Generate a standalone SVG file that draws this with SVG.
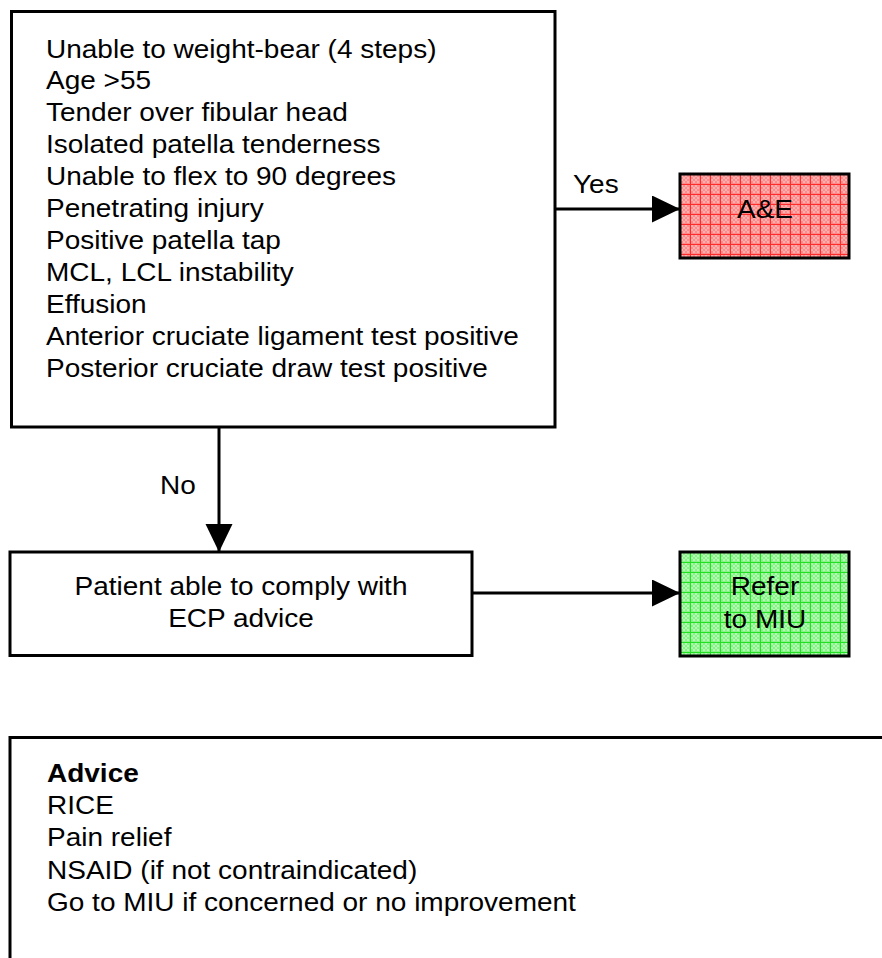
<svg xmlns="http://www.w3.org/2000/svg" width="882" height="958" viewBox="0 0 882 958">
<style>
  .box { fill: #ffffff; stroke: #000000; stroke-width: 3; }
  .t { font-family: "Liberation Sans", Arial, sans-serif; font-size: 25px; fill: #000000; }
  .b { font-weight: bold; }
  .c { text-anchor: middle; }
  .conn { stroke: #000000; stroke-width: 3; fill: none; }
</style>
<defs>
  <marker id="arrow" markerUnits="userSpaceOnUse" markerWidth="29" markerHeight="28" refX="28" refY="13.5" orient="auto">
    <path d="M0,0 L28,13.5 L0,27 Z" fill="#000000"/>
  </marker>
  <pattern id="redGrid" patternUnits="userSpaceOnUse" x="680" y="174" width="10" height="10">
    <rect width="10" height="10" fill="#ff8a8a"/>
    <rect x="1" y="1" width="2" height="2" fill="#ffb0b0"/>
    <rect x="5" y="1" width="2" height="2" fill="#ffb0b0"/>
    <rect x="3" y="3" width="2" height="2" fill="#ffb0b0"/>
    <rect x="7" y="3" width="2" height="2" fill="#ffb0b0"/>
    <rect x="1" y="5" width="2" height="2" fill="#ffb0b0"/>
    <rect x="5" y="5" width="2" height="2" fill="#ffb0b0"/>
    <rect x="3" y="7" width="2" height="2" fill="#ffb0b0"/>
    <rect x="7" y="7" width="2" height="2" fill="#ffb0b0"/>
    <path d="M0,0.5 H10 M0.5,0 V10" stroke="#ff2a2a" stroke-width="1"/>
  </pattern>
  <pattern id="greenGrid" patternUnits="userSpaceOnUse" x="680" y="552" width="10" height="10">
    <rect width="10" height="10" fill="#8af08a"/>
    <rect x="1" y="1" width="2" height="2" fill="#b0ffb0"/>
    <rect x="5" y="1" width="2" height="2" fill="#b0ffb0"/>
    <rect x="3" y="3" width="2" height="2" fill="#b0ffb0"/>
    <rect x="7" y="3" width="2" height="2" fill="#b0ffb0"/>
    <rect x="1" y="5" width="2" height="2" fill="#b0ffb0"/>
    <rect x="5" y="5" width="2" height="2" fill="#b0ffb0"/>
    <rect x="3" y="7" width="2" height="2" fill="#b0ffb0"/>
    <rect x="7" y="7" width="2" height="2" fill="#b0ffb0"/>
    <path d="M0,0.5 H10 M0.5,0 V10" stroke="#22e022" stroke-width="1"/>
  </pattern>
</defs>
<rect width="882" height="958" fill="#ffffff"/>

<g id="connectors">
  <line class="conn" x1="555" y1="209" x2="680" y2="209" marker-end="url(#arrow)"/>
  <line class="conn" x1="219" y1="427" x2="219" y2="552" marker-end="url(#arrow)"/>
  <line class="conn" x1="472" y1="593" x2="680" y2="593" marker-end="url(#arrow)"/>
  <g transform="translate(573,0) scale(1.12,1)"><text class="t" x="0" y="193">Yes</text></g>
  <g transform="translate(160,0) scale(1.12,1)"><text class="t" x="0" y="494">No</text></g>
</g>

<g id="criteria">
  <rect class="box" x="11.5" y="11.5" width="543.5" height="415.5"/>
  <g transform="translate(46,0) scale(1.12,1)">
    <text class="t" x="0" y="58">Unable to weight-bear (4 steps)</text>
    <text class="t" x="0" y="89">Age &gt;55</text>
    <text class="t" x="0" y="121">Tender over fibular head</text>
    <text class="t" x="0" y="153">Isolated patella tenderness</text>
    <text class="t" x="0" y="185">Unable to flex to 90 degrees</text>
    <text class="t" x="0" y="217">Penetrating injury</text>
    <text class="t" x="0" y="249">Positive patella tap</text>
    <text class="t" x="0" y="281">MCL, LCL instability</text>
    <text class="t" x="0" y="313">Effusion</text>
    <text class="t" x="0" y="345">Anterior cruciate ligament test positive</text>
    <text class="t" x="0" y="377">Posterior cruciate draw test positive</text>
  </g>
</g>

<g id="ae">
  <rect x="680" y="174" width="169" height="84" fill="url(#redGrid)" stroke="#000000" stroke-width="3"/>
  <g transform="translate(765,0) scale(1.12,1)"><text class="t c" x="0" y="218">A&amp;E</text></g>
</g>

<g id="patient">
  <rect class="box" x="10" y="552" width="462" height="103.5"/>
  <g transform="translate(241,0) scale(1.12,1)">
    <text class="t c" x="0" y="595">Patient able to comply with</text>
    <text class="t c" x="0" y="627">ECP advice</text>
  </g>
</g>

<g id="miu">
  <rect x="680" y="552" width="169" height="104" fill="url(#greenGrid)" stroke="#000000" stroke-width="3"/>
  <g transform="translate(765,0) scale(1.12,1)">
    <text class="t c" x="0" y="595">Refer</text>
    <text class="t c" x="0" y="628">to MIU</text>
  </g>
</g>

<g id="advice">
  <rect class="box" x="10" y="737.5" width="900" height="300"/>
  <g transform="translate(47,0) scale(1.12,1)">
    <text class="t b" x="0" y="782">Advice</text>
    <text class="t" x="0" y="814">RICE</text>
    <text class="t" x="0" y="846">Pain relief</text>
    <text class="t" x="0" y="879">NSAID (if not contraindicated)</text>
    <text class="t" x="0" y="911">Go to MIU if concerned or no improvement</text>
  </g>
</g>
</svg>
